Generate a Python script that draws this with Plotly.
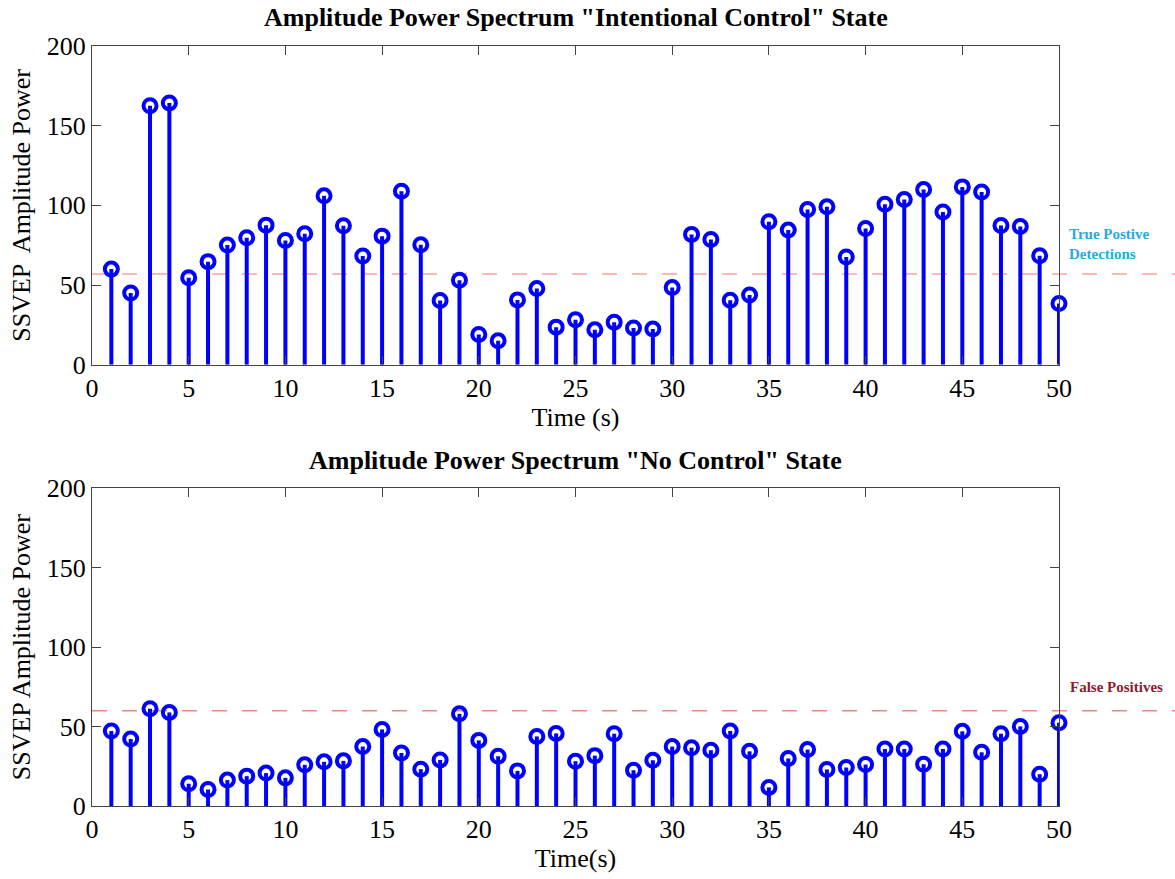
import plotly.graph_objects as go
from plotly.subplots import make_subplots

time_s = list(range(1, 51))

intentional_power = [60, 45, 162.5, 164.3, 54.6, 64.7, 75.1, 79.7, 87.6, 78,
                     82.2, 106, 87.2, 68.2, 80.7, 108.9, 75.3, 40.3, 53, 19,
                     15, 40.7, 47.8, 23.6, 28.2, 21.9, 26.7, 23.1, 22.5, 48.4,
                     81.8, 78.6, 40.5, 43.8, 89.7, 84.5, 97.4, 99.1, 67.6, 85.5,
                     100.7, 103.7, 109.9, 95.9, 111.6, 108.4, 87.4, 86.8, 68.4, 38.4]

no_control_power = [47.2, 42.2, 61.2, 58.9, 14, 10.4, 16.3, 18.8, 20.7, 17.7,
                    25.9, 27.8, 28.4, 37.4, 48.2, 33.4, 23.2, 29, 58, 41.3,
                    31.3, 22.1, 43.8, 45.7, 28.2, 31.7, 45.5, 22.5, 28.8, 37.4,
                    36.7, 35.1, 47.2, 34.4, 11.7, 29.9, 35.5, 23, 24.2, 26.1,
                    35.9, 35.9, 26.3, 35.9, 47, 33.8, 45.5, 50.1, 20, 52.4]

threshold_top = 57
threshold_bottom = 60

titles = ['Amplitude Power Spectrum "Intentional Control" State',
          'Amplitude Power Spectrum "No Control" State']
y_titles = ["SSVEP  Amplitude Power", "SSVEP Amplitude Power"]
x_titles = ["Time (s)", "Time(s)"]

FONT = "Liberation Serif, Times New Roman, serif"
BLUE = "#0000ff"

fig = make_subplots(rows=2, cols=1, vertical_spacing=0.1)


def stem(values, row):
    xs, ys = [], []
    for t, v in zip(time_s, values):
        xs += [t, t, None]
        ys += [0, v, None]
    fig.add_trace(go.Scatter(x=xs, y=ys, mode="lines",
                             line=dict(color=BLUE, width=4),
                             hoverinfo="skip", showlegend=False),
                  row=row, col=1)
    fig.add_trace(go.Scatter(x=time_s, y=values, mode="markers",
                             marker=dict(symbol="circle-open", size=13,
                                         color=BLUE, line=dict(width=4, color=BLUE)),
                             showlegend=False, cliponaxis=False),
                  row=row, col=1)


stem(intentional_power, 1)
stem(no_control_power, 2)

top_dom = [0.5806, 1.0]
bot_dom = [0.0, 0.4181]

axis_common = dict(range=[0, 50], dtick=5, tick0=0, showgrid=False, zeroline=False,
                   showline=True, linecolor="#444444", linewidth=1.3, mirror="ticks",
                   ticks="inside", ticklen=9, tickcolor="#444444", tickwidth=1.3,
                   tickfont=dict(family=FONT, size=26, color="black"))
yaxis_common = dict(range=[0, 200], dtick=50, tick0=0, showgrid=False, zeroline=False,
                    showline=True, linecolor="#444444", linewidth=1.3, mirror="ticks",
                    ticks="inside", ticklen=9, tickcolor="#444444", tickwidth=1.3,
                    tickfont=dict(family=FONT, size=26, color="black"))

fig.update_layout(
    width=1175, height=879,
    margin=dict(l=92, r=116, t=46, b=70),
    paper_bgcolor="white", plot_bgcolor="white",
    font=dict(family=FONT, color="black"),
    xaxis=dict(domain=[0, 1], **axis_common,
               title=dict(text=x_titles[0], font=dict(family=FONT, size=26), standoff=4)),
    yaxis=dict(domain=top_dom, **yaxis_common,
               title=dict(text=y_titles[0], font=dict(family=FONT, size=26), standoff=8)),
    xaxis2=dict(domain=[0, 1], **axis_common,
                title=dict(text=x_titles[1], font=dict(family=FONT, size=26), standoff=4)),
    yaxis2=dict(domain=bot_dom, **yaxis_common,
                title=dict(text=y_titles[1], font=dict(family=FONT, size=26), standoff=8)),
)

# threshold lines, extending past the right axis
fig.add_shape(type="line", xref="paper", yref="y", x0=0, x1=1.13,
              y0=threshold_top, y1=threshold_top, layer="below",
              line=dict(color="#f7a3a3", width=1.5, dash="longdash"))
fig.add_shape(type="line", xref="paper", yref="y2", x0=0, x1=1.13,
              y0=threshold_bottom, y1=threshold_bottom, layer="below",
              line=dict(color="#ef8585", width=1.5, dash="longdash"))

# titles
fig.add_annotation(text="<b>" + titles[0] + "</b>", xref="paper", yref="paper",
                   x=0.5, y=1.038, showarrow=False, yanchor="middle",
                   font=dict(family=FONT, size=26, color="black"))
fig.add_annotation(text="<b>" + titles[1] + "</b>", xref="paper", yref="paper",
                   x=0.5, y=0.4548, showarrow=False, yanchor="middle",
                   font=dict(family=FONT, size=26, color="black"))

# side labels
fig.add_annotation(text="<b>True Postive<br>Detections</b>", xref="paper", yref="paper",
                   x=1.008, y=0.739, showarrow=False, xanchor="left", yanchor="middle",
                   align="left", font=dict(family=FONT, size=15, color="#27aae1"))
fig.add_annotation(text="<b>False Positives</b>", xref="paper", yref="paper",
                   x=1.009, y=0.157, showarrow=False, xanchor="left", yanchor="middle",
                   align="left", font=dict(family=FONT, size=15, color="#8e1b2e"))

fig.write_html("out.html")
